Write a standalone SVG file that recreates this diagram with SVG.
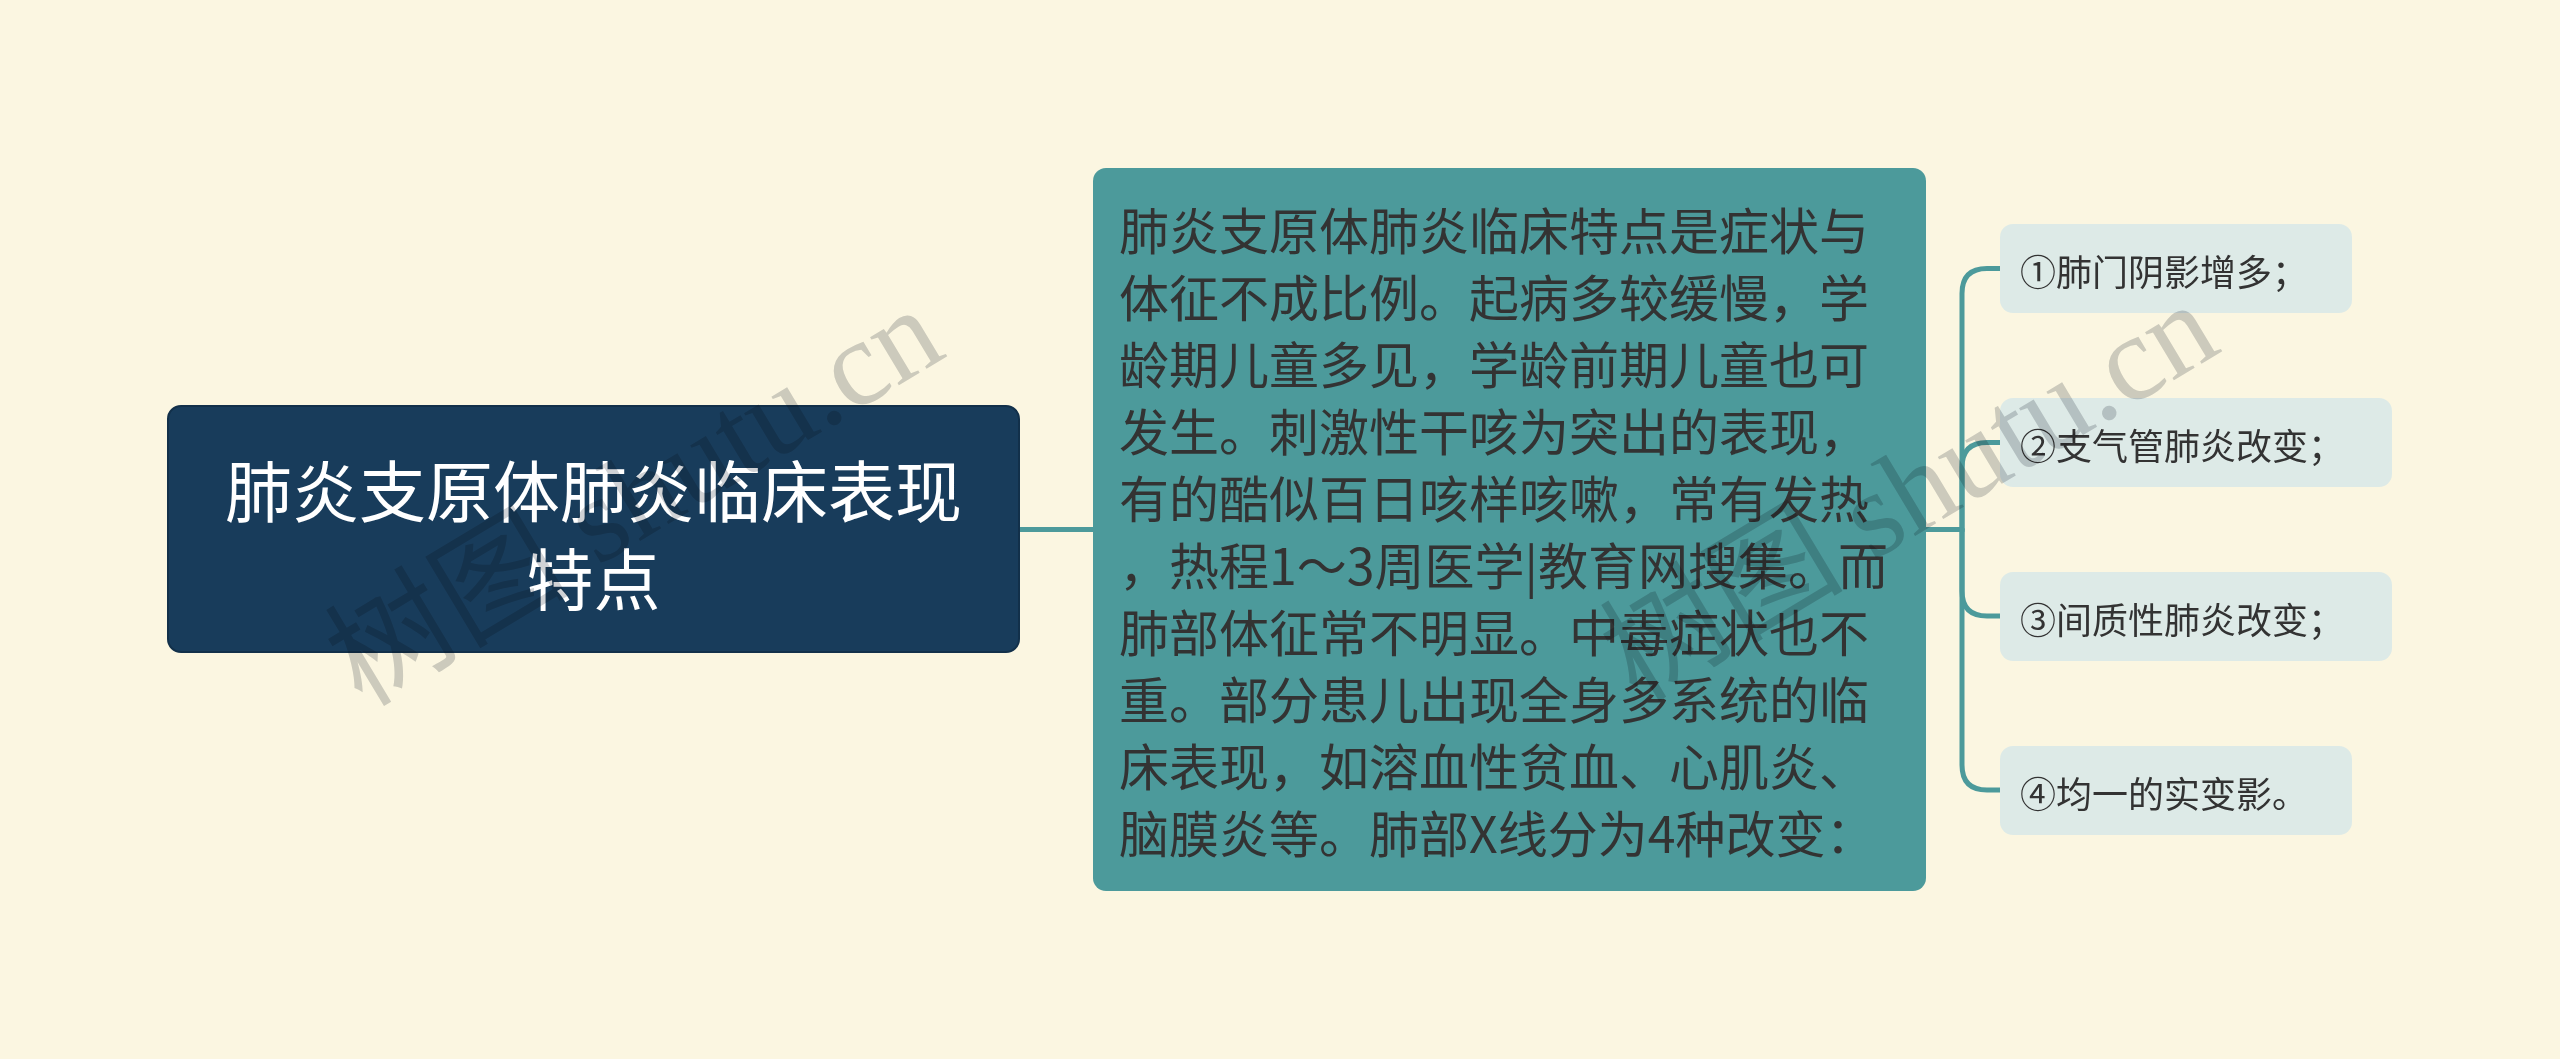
<svg xmlns="http://www.w3.org/2000/svg" width="2560" height="1059" viewBox="0 0 2560 1059">
<style>
.cjk{font-family:"Noto Sans CJK SC","Noto Sans",sans-serif;}
.root-box{fill:#183c5b;stroke:#12304a;stroke-width:2;}
.root-txt{fill:#ffffff;font-size:67px;}
.mid-box{fill:#4c9a9b;}
.mid-txt{fill:#333333;font-size:50px;}
.leaf-box{fill:#ddeae7;}
.leaf-txt{fill:#333333;font-size:36px;}
.conn{fill:none;stroke:#4c9a9b;stroke-width:5;stroke-linecap:round;}
.wm{font-family:"Liberation Serif","Noto Sans CJK SC",serif;font-size:122px;fill:#d0d2d5;mix-blend-mode:multiply;}
</style>
<rect width="2560" height="1059" fill="#fbf6e1"/>
<g id="connectors">
<path class="conn" d="M1019,529.5 H1093"/>
<path class="conn" d="M1926,529.5 H1962 V293.5 Q1962,268.5 1987,268.5 H2002"/>
<path class="conn" d="M1962,529.5 V467.5 Q1962,442.5 1987,442.5 H2002"/>
<path class="conn" d="M1962,529.5 V591 Q1962,616 1987,616 H2002"/>
<path class="conn" d="M1962,529.5 V765 Q1962,790 1987,790 H2002"/>
</g>
<g id="root">
<rect class="root-box" x="168" y="406" width="851" height="246" rx="13"/>
<text class="cjk root-txt" x="593.5" y="487" text-anchor="middle" dominant-baseline="central">肺炎支原体肺炎临床表现</text>
<text class="cjk root-txt" x="593.5" y="575" text-anchor="middle" dominant-baseline="central">特点</text>
</g>
<g id="main">
<rect class="mid-box" x="1093" y="168" width="833" height="723" rx="13"/>
<text class="cjk mid-txt" x="1119" dominant-baseline="central">
<tspan x="1119" y="227.6">肺炎支原体肺炎临床特点是症状与</tspan>
<tspan x="1119" y="294.6">体征不成比例。起病多较缓慢，学</tspan>
<tspan x="1119" y="361.6">龄期儿童多见，学龄前期儿童也可</tspan>
<tspan x="1119" y="428.6">发生。刺激性干咳为突出的表现，</tspan>
<tspan x="1119" y="495.6">有的酷似百日咳样咳嗽，常有发热</tspan>
<tspan x="1119" y="562.6">，热程1～3周医学|教育网搜集。而</tspan>
<tspan x="1119" y="629.6">肺部体征常不明显。中毒症状也不</tspan>
<tspan x="1119" y="696.6">重。部分患儿出现全身多系统的临</tspan>
<tspan x="1119" y="763.6">床表现，如溶血性贫血、心肌炎、</tspan>
<tspan x="1119" y="830.6">脑膜炎等。肺部X线分为4种改变：</tspan>
</text>
</g>
<g id="leaf1">
<rect class="leaf-box" x="2000" y="224" width="352" height="89" rx="13"/>
<text class="cjk leaf-txt" x="2020" y="270" dominant-baseline="central">①肺门阴影增多；</text>
</g>
<g id="leaf2">
<rect class="leaf-box" x="2000" y="398" width="392" height="89" rx="13"/>
<text class="cjk leaf-txt" x="2020" y="444" dominant-baseline="central">②支气管肺炎改变；</text>
</g>
<g id="leaf3">
<rect class="leaf-box" x="2000" y="572" width="392" height="89" rx="13"/>
<text class="cjk leaf-txt" x="2020" y="617.5" dominant-baseline="central">③间质性肺炎改变；</text>
</g>
<g id="leaf4">
<rect class="leaf-box" x="2000" y="746" width="352" height="89" rx="13"/>
<text class="cjk leaf-txt" x="2020" y="791.5" dominant-baseline="central">④均一的实变影。</text>
</g>
<g id="watermarks">
<text class="wm" transform="translate(362,708) rotate(-31)">树图 shutu.cn</text>
<text class="wm" transform="translate(1637,703) rotate(-31)">树图 shutu.cn</text>
</g>
</svg>
